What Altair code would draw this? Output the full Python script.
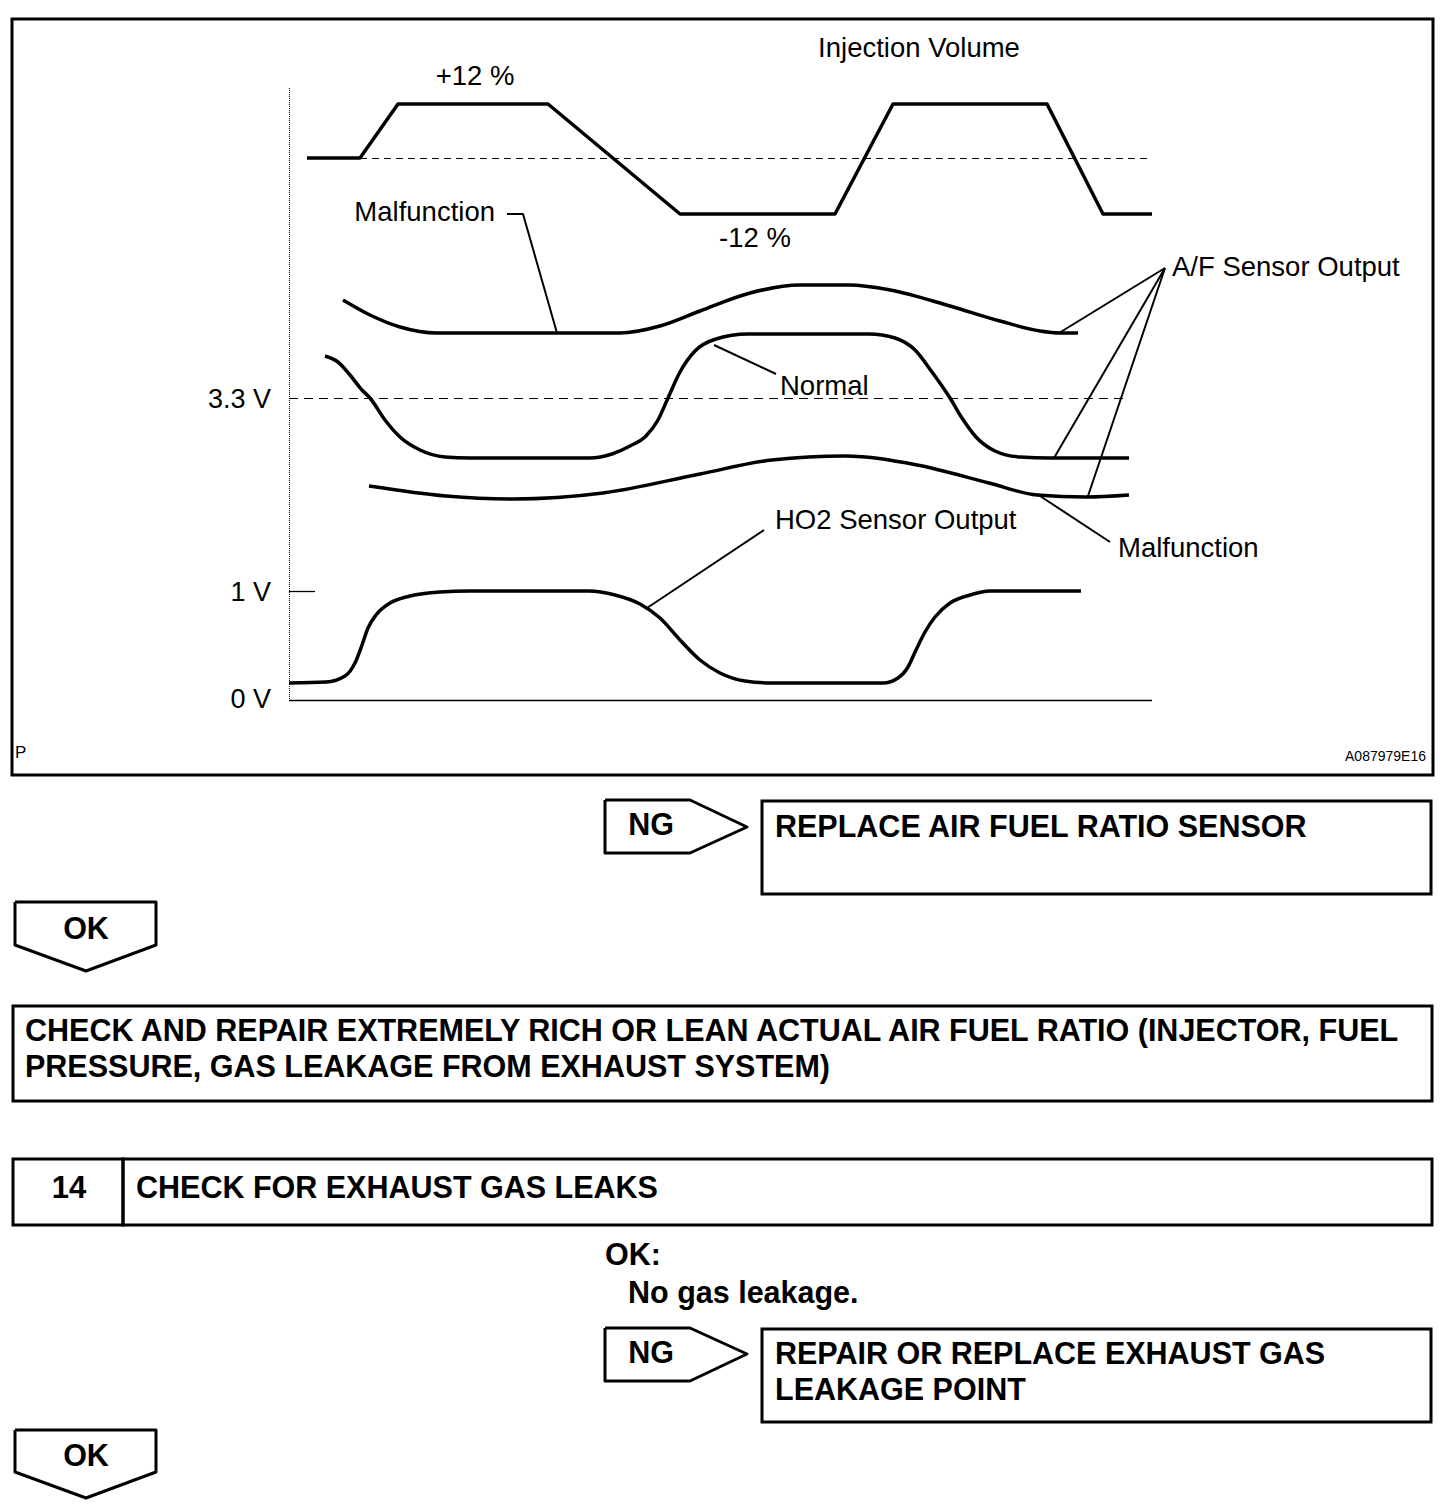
import altair as alt
import pandas as pd

# ---------------- data (diagram coordinates: x = time, y = signal level, pixel-like units) -------------
inj_x = [307, 360, 398, 548, 680, 835, 893, 1047, 1103, 1152]
inj_y = [158, 158, 104, 104, 214, 214, 104, 104, 214, 214]

malf_hi_x = [343, 370, 400, 437, 620, 660, 700, 750, 800, 850, 890, 950, 1000, 1040, 1060, 1078]
malf_hi_y = [300, 315, 327, 333, 333, 326, 311, 293, 285, 285, 290, 306, 321, 331, 333, 333]

normal_x = [325, 338, 350, 362, 370, 385, 400, 420, 445, 470, 590, 612, 630, 646, 658, 668, 680, 695, 716, 748,
            869, 895, 915, 932, 950, 962, 976, 995, 1020, 1050, 1129]
normal_y = [356, 362, 375, 390, 398, 420, 437, 450, 457, 458, 458, 454, 446, 436, 420, 398, 372, 351, 339, 334,
            334, 338, 350, 372, 398, 418, 437, 451, 457, 458, 458]

malf_lo_x = [369, 446, 513, 603, 700, 772, 845, 917, 989, 1037, 1086, 1129]
malf_lo_y = [486, 496, 499, 493, 474, 460, 456, 465, 483, 495, 497, 495]

ho2_x = [289, 326, 345, 355, 362, 368, 376, 390, 410, 440, 470, 589, 615, 640, 660, 680, 700, 720, 745, 772,
         883, 898, 908, 916, 925, 935, 950, 970, 990, 1081]
ho2_y = [683, 682, 676, 663, 645, 628, 615, 603, 596, 592, 591, 591, 595, 604, 618, 640, 660, 673, 681, 683,
         683, 678, 667, 650, 632, 617, 603, 595, 591, 591]

# leader lines (label callouts)
leaders = {
    "malf_hi": ([507, 523, 557], [214, 214, 333]),
    "normal": ([714, 776], [345, 374]),
    "af1": ([1165, 1059], [268, 333]),
    "af2": ([1165, 1054], [268, 458]),
    "af3": ([1165, 1088], [268, 496]),
    "malf_lo": ([1037, 1110], [494, 542]),
    "ho2": ([647, 764], [608, 530]),
}

# axis / reference lines
axis_levels = ["3.3 V", "1 V", "0 V"]
axis_level_y = [398, 591, 700]

# chart texts
chart_labels = ["Injection Volume", "+12 %", "-12 %", "Malfunction", "A/F Sensor Output", "Normal",
                "Malfunction", "HO2 Sensor Output"]
chart_label_x = [919, 475, 755, 495, 1172, 780, 1118, 775]
chart_label_y = [49, 77, 239, 213, 268, 387, 549, 521]
chart_label_align = ["center", "center", "center", "right", "left", "left", "left", "left"]

# flowchart texts
flow_texts = ["NG", "REPLACE AIR FUEL RATIO SENSOR", "OK",
              "CHECK AND REPAIR EXTREMELY RICH OR LEAN ACTUAL AIR FUEL RATIO (INJECTOR, FUEL",
              "PRESSURE, GAS LEAKAGE FROM EXHAUST SYSTEM)",
              "CHECK FOR EXHAUST GAS LEAKS", "OK:", "No gas leakage.", "NG",
              "REPAIR OR REPLACE EXHAUST GAS", "LEAKAGE POINT", "OK"]
flow_x = [651, 775, 86, 25, 25, 136, 605, 628, 651, 775, 775, 86]
flow_y = [826, 828, 930, 1032, 1068, 1189, 1256, 1294, 1354, 1355, 1391, 1457]
flow_align = ["center", "left", "center", "left", "left", "left", "left", "left", "center", "left", "left", "center"]

# ---------------- helpers ----------------
W, H = 1440, 1494
XS = alt.Scale(domain=[8, 8 + W], nice=False, zero=False)
YS = alt.Scale(domain=[8, 8 + H], nice=False, zero=False, reverse=True)
FONT = "Liberation Sans"


def lines_df(series):
    rows = []
    for name, (xs, ys) in series.items():
        for i, (a, b) in enumerate(zip(xs, ys)):
            rows.append({"x": a, "y": b, "g": name, "o": i})
    return pd.DataFrame(rows)


def line_layer(df, width, interp="linear", dash=None):
    kw = dict(color="black", strokeWidth=width, interpolate=interp, strokeJoin="round", strokeCap="butt")
    if dash:
        kw["strokeDash"] = dash
    return alt.Chart(df).mark_line(**kw).encode(
        x=alt.X("x:Q", scale=XS, axis=None),
        y=alt.Y("y:Q", scale=YS, axis=None),
        detail="g:N",
        order="o:Q",
    )


def rect_layer(df, width):
    return alt.Chart(df).mark_rect(fill="white", fillOpacity=0, stroke="black", strokeWidth=width).encode(
        x=alt.X("x:Q", scale=XS, axis=None), x2="x2:Q",
        y=alt.Y("y:Q", scale=YS, axis=None), y2="y2:Q",
    )


def text_layer(df, size, bold=False):
    layers = []
    for al in ["left", "center", "right"]:
        sub = df[df["align"] == al]
        if len(sub) == 0:
            continue
        layers.append(alt.Chart(sub).mark_text(
            align=al, baseline="middle", font=FONT, fontSize=size,
            fontWeight="bold" if bold else "normal", color="black",
        ).encode(
            x=alt.X("x:Q", scale=XS, axis=None),
            y=alt.Y("y:Q", scale=YS, axis=None),
            text="t:N",
        ))
    return layers


# ---------------- layers ----------------
frame = pd.DataFrame([{"x": 12, "x2": 1433, "y": 19, "y2": 775}])
boxes = pd.DataFrame([
    {"x": 762, "x2": 1431, "y": 801, "y2": 894},
    {"x": 13, "x2": 1432, "y": 1006, "y2": 1101},
    {"x": 13, "x2": 123, "y": 1159, "y2": 1225},
    {"x": 123, "x2": 1432, "y": 1159, "y2": 1225},
    {"x": 762, "x2": 1431, "y": 1329, "y2": 1422},
])

curves = lines_df({
    "malf_hi": (malf_hi_x, malf_hi_y),
    "normal": (normal_x, normal_y),
    "malf_lo": (malf_lo_x, malf_lo_y),
    "ho2": (ho2_x, ho2_y),
})
inj = lines_df({"inj": (inj_x, inj_y)})
lead = lines_df(leaders)

dash_inj = lines_df({"d1": ([360, 1148], [158.5, 158.5])})
dash_33 = lines_df({"d2": ([289, 1128], [axis_level_y[0] + 0.5, axis_level_y[0] + 0.5])})
axis_v = lines_df({"av": ([289.5, 289.5], [88, 700])})
axis_h = lines_df({"ah": ([289, 1152], [axis_level_y[2] + 0.5, axis_level_y[2] + 0.5]),
                   "t1": ([289, 315], [axis_level_y[1] + 0.5, axis_level_y[1] + 0.5])})

arrows = lines_df({
    "ng1": ([605, 690, 747, 690, 605, 605], [800, 800, 827, 853, 853, 800]),
    "ng2": ([605, 690, 747, 690, 605, 605], [1328, 1328, 1354, 1381, 1381, 1328]),
    "ok1": ([15, 156, 156, 86, 15, 15], [902, 902, 945, 971, 945, 902]),
    "ok2": ([15, 156, 156, 86, 15, 15], [1430, 1430, 1472, 1498, 1472, 1430]),
})

chart_txt = pd.DataFrame({"t": chart_labels, "x": chart_label_x, "y": chart_label_y, "align": chart_label_align})
axis_txt = pd.DataFrame({"t": axis_levels, "x": [271, 271, 271], "y": [400, 593, 700], "align": ["right"] * 3})
flow_txt = pd.DataFrame({"t": flow_texts, "x": flow_x, "y": flow_y, "align": flow_align})
num_txt = pd.DataFrame({"t": ["14"], "x": [69], "y": [1189], "align": ["center"]})
small_txt = pd.DataFrame({"t": ["A087979E16"], "x": [1426], "y": [757], "align": ["right"]})
p_txt = pd.DataFrame({"t": ["P"], "x": [15], "y": [753], "align": ["left"]})

layers = [
    rect_layer(frame, 3),
    rect_layer(boxes, 3),
    line_layer(axis_v, 1, dash=[1, 1]),
    line_layer(axis_h, 1.3),
    line_layer(dash_inj, 1, dash=[7, 5]),
    line_layer(dash_33, 1, dash=[9, 6]),
    line_layer(inj, 3.5),
    line_layer(curves, 3.5, interp="monotone"),
    line_layer(lead, 2),
    line_layer(arrows, 3),
]
layers += text_layer(chart_txt, 27.5)
layers += text_layer(axis_txt, 27)
layers += text_layer(flow_txt, 30.5, bold=True)
layers += text_layer(num_txt, 31, bold=True)
layers += text_layer(small_txt, 14)
layers += text_layer(p_txt, 17)

chart = alt.layer(*layers).properties(
    width=W, height=H,
    autosize=alt.AutoSizeParams(type="none"),
    padding=0,
).configure_view(stroke=None)

chart.save("out.html", embed_options={"renderer": "svg", "actions": False})
